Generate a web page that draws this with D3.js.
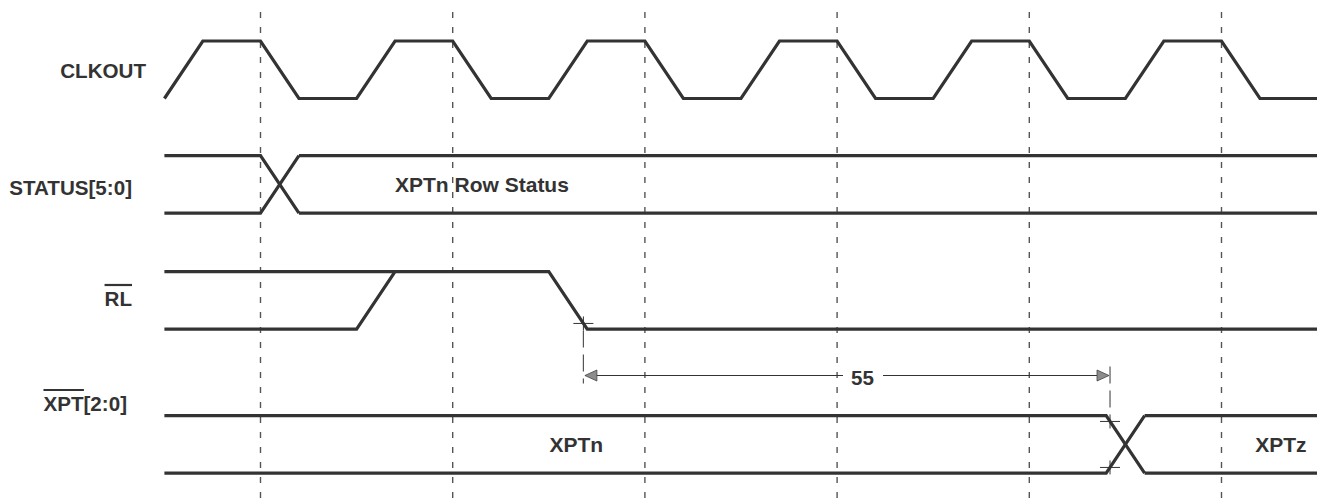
<!DOCTYPE html>
<html>
<head>
<meta charset="utf-8">
<script src="https://cdn.jsdelivr.net/npm/d3@7"></script>
<style>
  html, body { margin: 0; padding: 0; background: #fff; }
  svg { display: block; }
  text { font-family: "Liberation Sans", Arial, Helvetica, sans-serif; font-weight: bold; fill: #333; }
</style>
</head>
<body>
<svg id="chart" width="1317" height="502"></svg>
<script>
// ---- Data (time in clock cycles, t = 0 at first dashed reference line) ----
const signalNames = ["CLKOUT", "STATUS[5:0]", "RL", "XPT[2:0]"];
const signalOverbar = [false, false, true, true];

// CLKOUT: [time, level] breakpoints
const clkWave = [
  [-0.5, 0], [-0.3, 1], [0, 1], [0.2, 0], [0.5, 0], [0.7, 1], [1, 1], [1.2, 0],
  [1.5, 0], [1.7, 1], [2, 1], [2.2, 0], [2.5, 0], [2.7, 1], [3, 1], [3.2, 0],
  [3.5, 0], [3.7, 1], [4, 1], [4.2, 0], [4.5, 0], [4.7, 1], [5, 1], [5.2, 0], [5.5, 0]
];
// RL: [time, level] breakpoints (undefined state before the rise shown as both levels)
const rlWave = [[-0.5, 0], [0.5, 0], [0.7, 1], [1.5, 1], [1.7, 0], [5.5, 0]];
const rlHighPre = [[-0.5, 1], [0.7, 1]];
// Bus signals: transitions (start time) and segment labels
const statusEdges = [0];
const statusLabels = [{ t: 0.7, text: "XPTn Row Status" }];
const xptEdges = [4.4];
const xptLabels = [{ t: 1.503, text: "XPTn" }, { t: 5.175, text: "XPTz" }];
const gridTimes = [0, 1, 2, 3, 4, 5];
// Timing annotation: from RL 90% point to XPT 10% point
const timingFrom = 1.68;
const timingTo = 4.42;
const timingLabel = "55";

// ---- Layout ----
const edgeW = 0.2;
const tStart = -0.5, tEnd = 5.5;
const rowTop = [41, 155.7, 271.7, 415.7];
const amp = 57.5;
const ink = "#333";
const sw = 3.2;

const svg = d3.select("#chart");
const x = d3.scaleLinear().domain([0, 1]).range([260.5, 452.7]);
const lvl = i => d3.scaleLinear().domain([0, 1]).range([rowTop[i] + amp, rowTop[i]]);

// grid
svg.append("g").selectAll("line").data(gridTimes).join("line")
  .attr("x1", d => x(d)).attr("x2", d => x(d))
  .attr("y1", 12).attr("y2", 502)
  .attr("stroke", "#555").attr("stroke-width", 1.4)
  .attr("stroke-dasharray", "6,9");

const line = (i) => d3.line().x(d => x(d[0])).y(d => lvl(i)(d[1]));

// CLKOUT
svg.append("path").datum(clkWave).attr("d", line(0))
  .attr("fill", "none").attr("stroke", ink).attr("stroke-width", sw);
// RL
svg.append("g").selectAll("path").data([rlWave, rlHighPre]).join("path").attr("d", line(2))
  .attr("fill", "none").attr("stroke", ink).attr("stroke-width", sw);

// bus drawing
function busPaths(edges) {
  const hi = [], lo = [];
  let cur = [[tStart, 1]], curLo = [[tStart, 0]];
  edges.forEach(e => {
    cur.push([e, 1], [e + edgeW, 0]);
    curLo.push([e, 0], [e + edgeW, 1]);
    hi.push(cur); lo.push(curLo);
    cur = [[e + edgeW, 1]]; curLo = [[e + edgeW, 0]];
  });
  cur.push([tEnd, 1]); curLo.push([tEnd, 0]);
  hi.push(cur); lo.push(curLo);
  return hi.concat(lo);
}
[[1, statusEdges], [3, xptEdges]].forEach(([i, edges]) => {
  svg.append("g").selectAll("path").data(busPaths(edges)).join("path")
    .attr("d", line(i)).attr("fill", "none").attr("stroke", ink).attr("stroke-width", sw);
});

// bus labels
function busLabels(i, labels) {
  svg.append("g").selectAll("text").data(labels).join("text")
    .attr("x", d => x(d.t)).attr("y", rowTop[i] + amp / 2 + 7.5)
    .attr("font-size", 21).text(d => d.text);
}
busLabels(1, statusLabels);
busLabels(3, xptLabels);

// signal names
const nameRight = [146, 132, 132, 127];
const nameBase = [78, 195, 306, 411];
signalNames.forEach((n, i) => {
  const t = svg.append("text").attr("x", nameRight[i]).attr("y", nameBase[i])
    .attr("text-anchor", "end").attr("font-size", 20.6).attr("class", "name" + i);
  if (n === "RL") {
    t.append("tspan").text("RL");
  } else if (n === "XPT[2:0]") {
    t.append("tspan").text("XPT");
    t.append("tspan").text("[2:0]");
  } else t.text(n);
});
// overbars
signalNames.forEach((n, i) => {
  if (!signalOverbar[i]) return;
  const sp = svg.select("text.name" + i).select("tspan").node();
  const bb = sp.getBBox();
  svg.append("line").attr("x1", bb.x).attr("x2", bb.x + bb.width)
    .attr("y1", nameBase[i] - 21).attr("y2", nameBase[i] - 21)
    .attr("stroke", ink).attr("stroke-width", 2.2);
});

// timing annotation
const yFrom = lvl(2)(0.1), yTo1 = lvl(3)(0.9), yTo2 = lvl(3)(0.1);
const yArrow = 375.5;
const g = svg.append("g");
// crosshairs
[[timingFrom, yFrom], [timingTo, yTo1], [timingTo, yTo2]].forEach(([t, yy]) => {
  g.append("line").attr("x1", x(t) - 10).attr("x2", x(t) + 10).attr("y1", yy).attr("y2", yy)
    .attr("stroke", ink).attr("stroke-width", 1);
  g.append("line").attr("x1", x(t)).attr("x2", x(t)).attr("y1", yy - 7).attr("y2", yy + 7)
    .attr("stroke", ink).attr("stroke-width", 1);
});
// extension lines
g.append("line").attr("x1", x(timingFrom)).attr("x2", x(timingFrom))
  .attr("y1", yFrom + 7).attr("y2", yArrow + 8)
  .attr("stroke", "#555").attr("stroke-width", 1.2).attr("stroke-dasharray", "17,7");
g.append("line").attr("x1", x(timingTo)).attr("x2", x(timingTo))
  .attr("y1", yArrow - 9).attr("y2", yTo1 - 7)
  .attr("stroke", "#555").attr("stroke-width", 1.2).attr("stroke-dasharray", "17,7");
// arrow line with gap for label
g.append("line").attr("x1", x(timingFrom) + 2).attr("x2", 843).attr("y1", yArrow).attr("y2", yArrow)
  .attr("stroke", ink).attr("stroke-width", 1);
g.append("line").attr("x1", 883).attr("x2", x(timingTo) - 2).attr("y1", yArrow).attr("y2", yArrow)
  .attr("stroke", ink).attr("stroke-width", 1);
// arrowheads
const ah = (tipX, dir) => {
  const b = tipX + dir * 12;
  return `M${tipX},${yArrow} L${b},${yArrow - 5.5} L${b},${yArrow + 5.5} Z`;
};
g.append("path").attr("d", ah(x(timingFrom) + 1.5, 1)).attr("fill", "#8c8c8c").attr("stroke", "#444").attr("stroke-width", 0.8);
g.append("path").attr("d", ah(x(timingTo) - 1, -1)).attr("fill", "#8c8c8c").attr("stroke", "#444").attr("stroke-width", 0.8);
g.append("text").attr("x", 862.5).attr("y", yArrow + 9.5).attr("text-anchor", "middle")
  .attr("font-size", 20.6).text(timingLabel);
</script>
</body>
</html>
